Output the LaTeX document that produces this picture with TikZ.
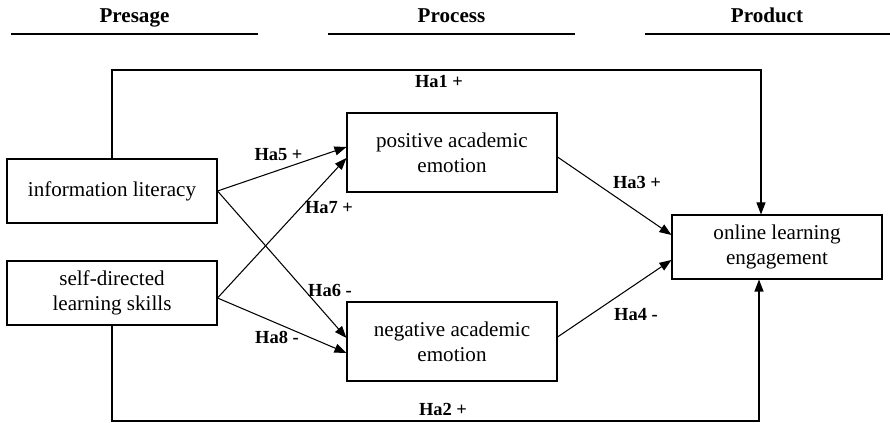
\documentclass[tikz,border=0pt]{standalone}
\usepackage{fontspec}
\setmainfont{Liberation Serif}
\usepackage{tikz}
\usetikzlibrary{positioning,arrows.meta,calc}

\begin{document}
\begin{tikzpicture}[
    box/.style={draw, line width=0.6pt, minimum width=4.2cm, inner sep=2pt, align=center, font=\fontsize{12}{14}\selectfont},
    header/.style={anchor=base, font=\fontsize{12}{14}\selectfont\bfseries},
    headline/.style={line width=1.4pt},
    connector/.style={-{Triangle[length=2.4mm, width=1.8mm]}, line width=0.6pt},
    hyp/.style={font=\fontsize{10.5}{12}\selectfont\bfseries}
]
\useasboundingbox (0,0) rectangle (17.8,8.46);

% Stage headers
\node[header] (presage) at (2.69,8.0) {Presage};
\node[header] (process) at (9.03,8.0) {Process};
\node[header] (product) at (15.34,8.0) {Product};
\draw[headline] (0.22,7.78) -- (5.16,7.78);
\draw[headline] (6.56,7.78) -- (11.5,7.78);
\draw[headline] (12.9,7.78) -- (17.8,7.78);

% Presage
\node[box, minimum height=1.28cm] (info) at (2.24,4.64) {information literacy};
\node[box, minimum height=1.28cm] (selfdir) at (2.24,2.60) {self-directed\\learning skills};

% Process
\node[box, minimum height=1.58cm] (pos) at (9.04,5.41) {positive academic\\emotion};
\node[box, minimum height=1.58cm] (neg) at (9.04,1.63) {negative academic\\emotion};

% Product
\node[box, minimum height=1.28cm] (engage) at (15.54,3.52) {online learning\\engagement};

% Direct paths
\coordinate (ha1turn) at (2.24,7.06);
\coordinate (ha2turn) at (2.24,0.04);
\draw[connector] (info.north) -- (ha1turn) -| ([xshift=-3.2mm]engage.north);
\draw[connector] (selfdir.south) -- (ha2turn) -| ([xshift=-3.6mm]engage.south);
\node[hyp] (ha1) at (8.78,6.82) {Ha1 +};
\node[hyp] (ha2) at (8.86,0.27) {Ha2 +};

% Presage to process
\draw[connector] (info.east) -- ([yshift=1.1mm]pos.west);
\draw[connector] (info.east) -- ([yshift=0.7mm]neg.west);
\draw[connector] ([yshift=-1mm]selfdir.east) -- ([yshift=-1.1mm]pos.west);
\draw[connector] ([yshift=-1mm]selfdir.east) -- ([yshift=-2.3mm]neg.west);
\node[hyp] (ha5) at (5.57,5.36) {Ha5 +};
\node[hyp] (ha7) at (6.58,4.30) {Ha7 +};
\node[hyp] (ha6) at (6.60,2.66) {Ha6 -};
\node[hyp] (ha8) at (5.54,1.72) {Ha8 -};

% Process to product
\draw[connector] ([yshift=-0.9mm]pos.east) -- ([yshift=2.4mm]engage.west);
\draw[connector] ([yshift=0.9mm]neg.east) -- ([yshift=-2.6mm]engage.west);
\node[hyp] (ha3) at (12.74,4.82) {Ha3 +};
\node[hyp] (ha4) at (12.72,2.16) {Ha4 -};

\end{tikzpicture}
\end{document}
